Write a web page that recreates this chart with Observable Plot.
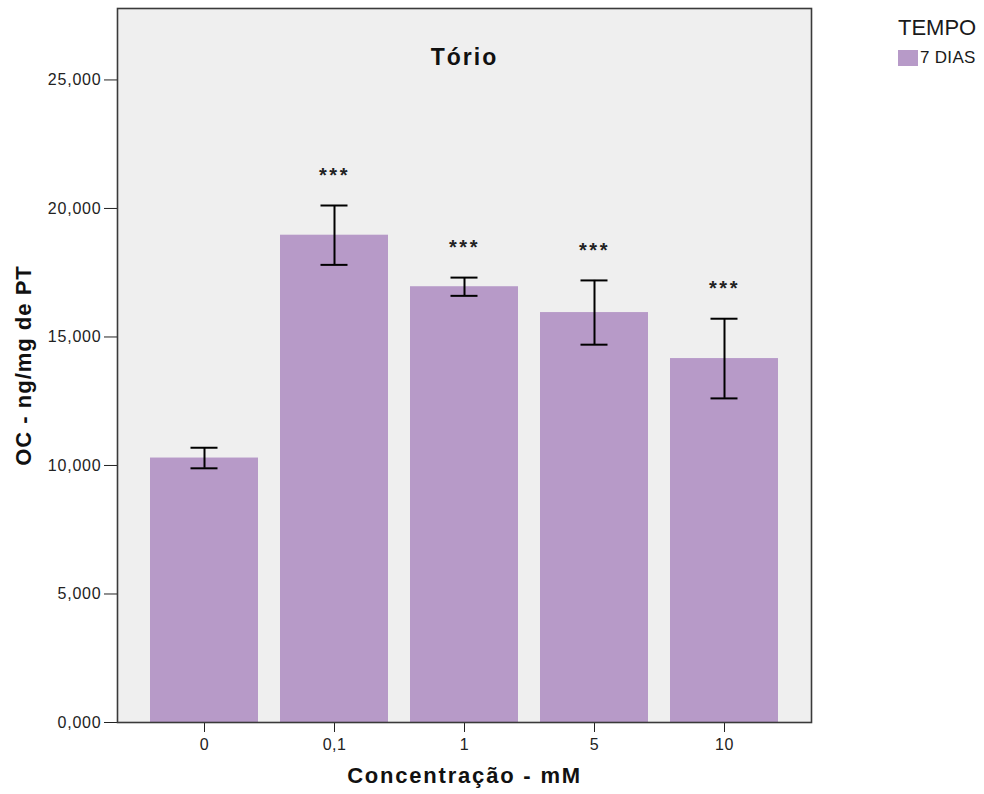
<!DOCTYPE html>
<html>
<head>
<meta charset="utf-8">
<script src="https://cdn.jsdelivr.net/npm/d3@7"></script>
<script src="https://cdn.jsdelivr.net/npm/@observablehq/plot@0.6"></script>
<style>
  body { margin: 0; background: #fff; font-family: "Liberation Sans", Arial, sans-serif; }
  #wrap { position: relative; width: 984px; height: 794px; }
  #legend { position: absolute; left: 898px; top: 16px; color: #1a1a1a; }
  #legend .ttl { font-size: 22px; line-height: 24px; }
  #legend .item { display: flex; align-items: center; margin-top: 8px; font-size: 17px; letter-spacing: 0.3px; }
  #legend .sw { width: 20px; height: 16px; margin-right: 2px; }
  g[aria-label="y-axis tick label"] text { letter-spacing: 0.8px; }
  g[aria-label="x-axis tick label"] text { letter-spacing: 0.5px; }
</style>
</head>
<body>
<div id="wrap"></div>
<script>
// Concentrations (mM) and mean OC per mg of protein, with error half-widths
const concentrations = ["0", "0,1", "1", "5", "10"];
const means = [10290, 18960, 16955, 15950, 14160];
const errors = [400, 1155, 355, 1250, 1550];
const significance = ["", "***", "***", "***", "***"];
const yTicks = [0, 5000, 10000, 15000, 20000, 25000];
const yTickLabels = ["0,000", "5,000", "10,000", "15,000", "20,000", "25,000"];
const legendTitle = "TEMPO";
const seriesName = "7 DIAS";

const barColor = "#b79ac8";
const rows = concentrations.map((c, i) => ({conc: c, mean: means[i], err: errors[i], sig: significance[i]}));

const chart = Plot.plot({
  width: 984,
  height: 794,
  marginLeft: 117,
  marginRight: 173,
  marginTop: 8,
  marginBottom: 72,
  style: {fontFamily: "'Liberation Sans', Arial, sans-serif", color: "#222", background: "#fff"},
  x: {domain: concentrations, paddingInner: 0.17, paddingOuter: 0.25, label: null},
  y: {domain: [0, 27780], label: null},
  marks: [
    Plot.frame({fill: "#efefef"}),
    Plot.barY(rows, {x: "conc", y: "mean", fill: barColor}),
    Plot.ruleX(rows, {x: "conc", y1: d => d.mean - d.err, y2: d => d.mean + d.err, stroke: "#000", strokeWidth: 2}),
    Plot.tickY(rows, {x: "conc", y: d => d.mean + d.err, stroke: "#000", strokeWidth: 2, insetLeft: 40.5, insetRight: 40.5}),
    Plot.tickY(rows, {x: "conc", y: d => d.mean - d.err, stroke: "#000", strokeWidth: 2, insetLeft: 40.5, insetRight: 40.5}),
    Plot.text(rows, {x: "conc", y: d => d.mean + d.err, text: "sig", dy: -30, fontSize: 20, fill: "#222"}),
    Plot.axisY({ticks: yTicks, tickFormat: d => yTickLabels[yTicks.indexOf(d)], tickSize: 13, tickPadding: 3, fontSize: 16, label: null, stroke: "#222"}),
    Plot.axisX({tickSize: 10, tickPadding: 6, fontSize: 16, label: null, stroke: "#222"}),
    Plot.frame({stroke: "#3a3a3a", strokeWidth: 1.6}),
    Plot.text(["Tório"], {frameAnchor: "top", dy: 40, text: d => d, fontSize: 23, fontWeight: "bold", fill: "#111"}),
    Plot.text(["OC - ng/mg de PT"], {frameAnchor: "left", textAnchor: "middle", dx: -94, rotate: -90, text: d => d, fontSize: 22, fontWeight: "bold", fill: "#111"}),
    Plot.text(["Concentração - mM"], {frameAnchor: "bottom", dy: 60, text: d => d, fontSize: 22, fontWeight: "bold", fill: "#111"})
  ]
});

const wrap = document.getElementById("wrap");
wrap.appendChild(chart);

// Legend for the single time series
const legend = document.createElement("div");
legend.id = "legend";
legend.innerHTML = `<div class="ttl">${legendTitle}</div>
  <div class="item"><span class="sw" style="background:${barColor}"></span><span>${seriesName}</span></div>`;
wrap.appendChild(legend);

// Wider tracking on the bold axis titles, title and significance marks
chart.querySelectorAll("text").forEach(t => {
  const s = t.textContent;
  if (s === "OC - ng/mg de PT") t.style.letterSpacing = "1px";
  if (s === "Concentração - mM") t.style.letterSpacing = "1.8px";
  if (s === "Tório") t.style.letterSpacing = "2px";
  if (s === "***") { t.style.letterSpacing = "2.5px"; t.style.fontWeight = "bold"; }
});
</script>
</body>
</html>
